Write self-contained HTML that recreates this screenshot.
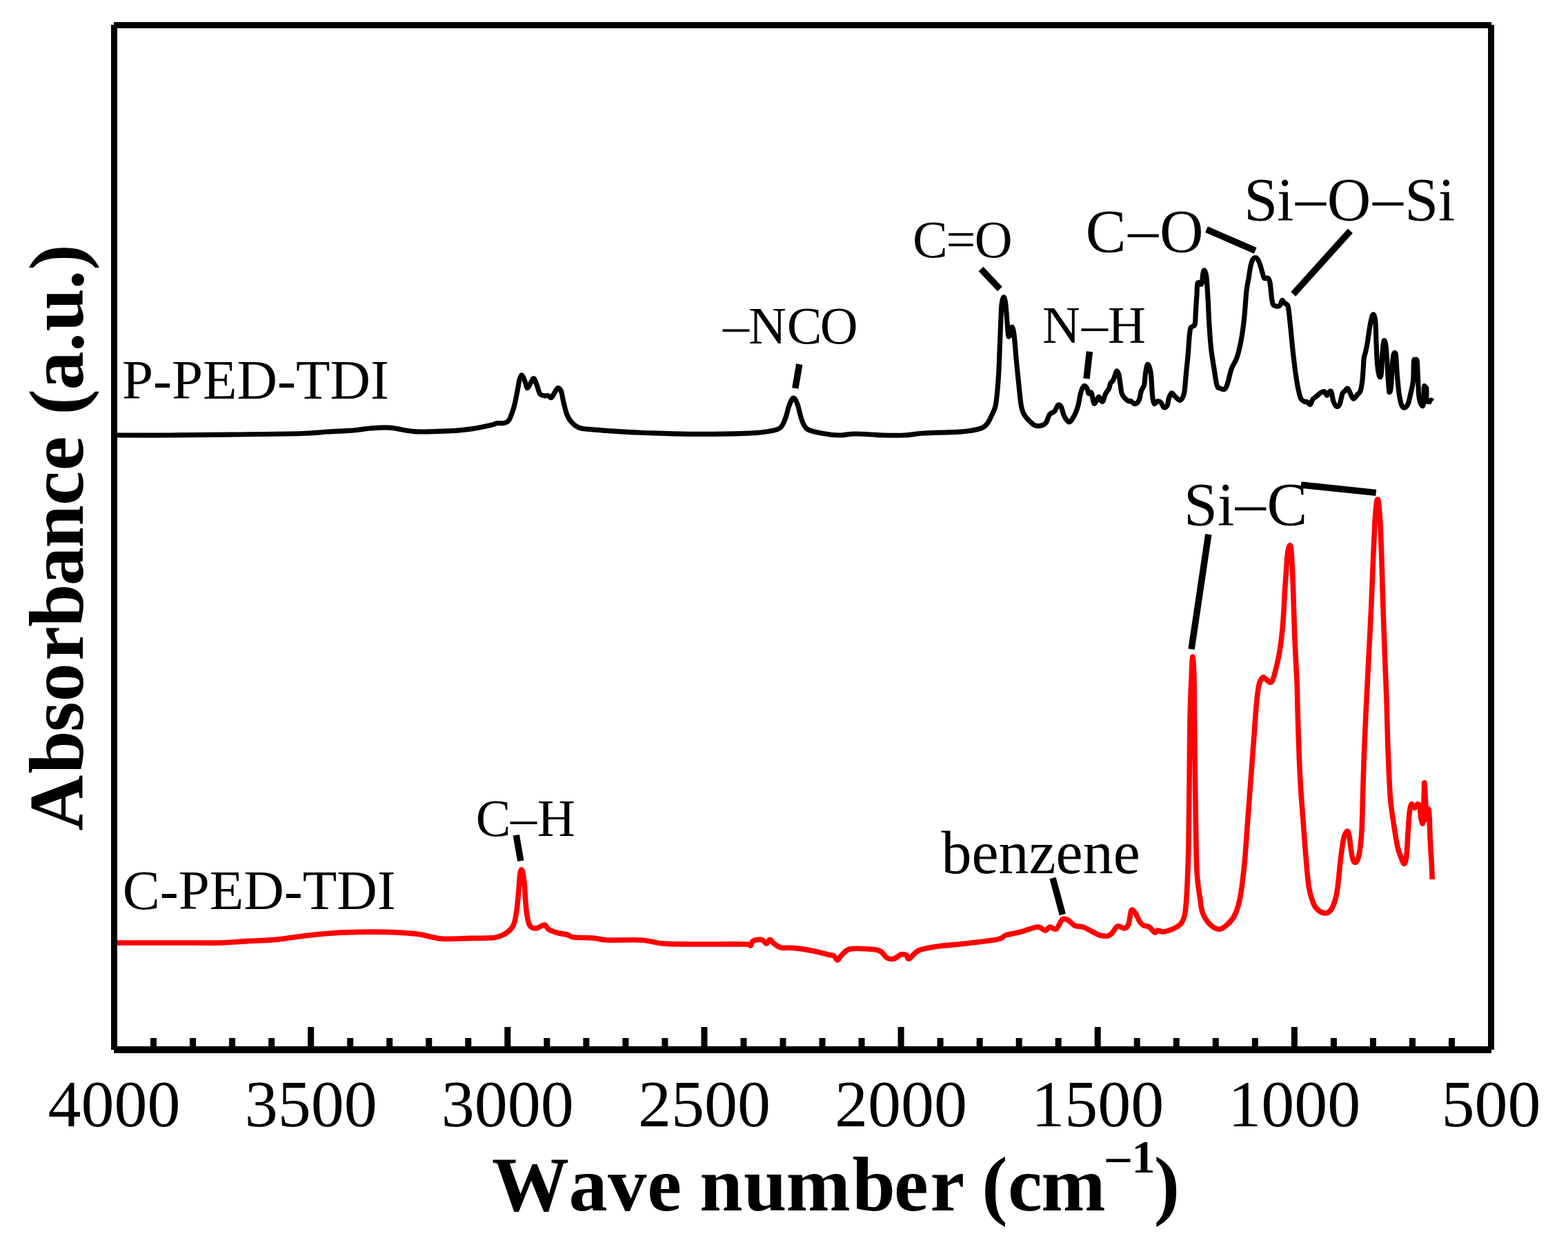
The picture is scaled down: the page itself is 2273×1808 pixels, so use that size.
<!DOCTYPE html><html><head><meta charset="utf-8"><title>FTIR spectra</title><style>html,body{margin:0;padding:0;background:#fff;}svg{display:block;}text{font-family:'Liberation Serif', 'Times New Roman', serif;}</style></head><body>
<svg width="2273" height="1808" viewBox="0 0 2273 1808">
<rect x="0" y="0" width="2273" height="1808" fill="#fff"/>
<path d="M165,631C178.7,631.0 217.8,631.2 247,631C276.2,630.8 308.2,630.4 340,630C371.8,629.6 415.5,629.2 438,628.5C460.5,627.8 462.7,626.8 475,626C487.3,625.2 501.7,624.8 512,624C522.3,623.2 528.2,621.6 537,621C545.8,620.4 554.5,619.4 565,620.2C575.5,621.0 589.5,624.7 600,625.6C610.5,626.5 618.5,625.8 627.8,625.6C637.1,625.5 646.4,625.3 655.7,624.7C665.0,624.1 674.2,623.3 683.5,621.9C692.8,620.5 705.1,617.8 711.3,616.4C717.5,615.0 717.5,614.1 720.6,613.6C723.7,613.1 727.1,614.2 729.9,613.6C732.7,613.0 735.1,612.7 737.3,609.9C739.5,607.1 741.3,601.2 742.9,596.9C744.5,592.6 745.4,589.2 746.6,583.9C747.8,578.6 749.2,570.9 750.3,565.3C751.4,559.7 752.0,554.0 753.1,550.5C754.2,547.0 755.4,543.4 756.8,544C758.2,544.6 760.2,551.1 761.4,554.2C762.6,557.3 763.1,562.0 764.2,562.6C765.3,563.2 766.4,560.2 767.9,557.9C769.4,555.6 771.8,548.6 773.5,548.6C775.2,548.6 776.6,554.2 778.1,557.9C779.6,561.6 780.9,568.3 782.7,570.9C784.6,573.5 787.2,573.2 789.2,573.7C791.2,574.2 793.1,573.2 794.8,573.7C796.5,574.2 797.8,577.3 799.4,576.5C801.0,575.7 802.5,571.4 804.1,569.1C805.7,566.8 807.2,562.9 808.7,562.6C810.2,562.3 812.0,563.7 813.4,567.2C814.8,570.8 815.7,578.3 817.1,583.9C818.5,589.5 819.9,596.0 821.7,600.6C823.6,605.2 825.3,608.5 828.2,611.7C831.1,615.0 834.0,618.2 839.3,620.1C844.5,622.0 850.1,622.0 859.7,622.9C869.3,623.8 884.4,624.8 896.8,625.6C909.2,626.4 917.0,626.9 934,627.5C951.0,628.1 974.6,629.2 998.9,629.4C1023.2,629.5 1061.5,629.0 1080,628.4C1098.5,627.8 1101.7,627.2 1110,626C1118.3,624.8 1125.3,624.0 1130,621C1134.7,618.0 1135.7,613.5 1138,608C1140.3,602.5 1142.0,593.2 1144,588C1146.0,582.8 1148.0,577.3 1150,577C1152.0,576.7 1154.0,580.8 1156,586C1158.0,591.2 1159.7,602.0 1162,608C1164.3,614.0 1165.3,618.7 1170,622C1174.7,625.3 1182.3,626.5 1190,628C1197.7,629.5 1207.7,630.8 1216,631C1224.3,631.2 1229.3,629.0 1240,629C1250.7,629.0 1268.2,630.7 1280,631C1291.8,631.3 1301.0,631.5 1311,631C1321.0,630.5 1328.5,628.7 1340,628C1351.5,627.3 1369.8,627.1 1380,626.6C1390.2,626.1 1394.0,626.1 1401,625.2C1408.0,624.3 1417.1,622.6 1422,621C1426.9,619.4 1427.8,618.4 1430.3,615.4C1432.8,612.4 1435.2,607.2 1437.3,602.8C1439.4,598.4 1441.6,594.6 1443,588.8C1444.4,583.0 1444.9,575.9 1445.7,567.8C1446.5,559.6 1447.2,550.4 1447.8,539.9C1448.4,529.4 1448.7,516.6 1449.2,504.9C1449.7,493.2 1450.1,480.4 1450.6,469.9C1451.1,459.4 1451.3,448.5 1452,442C1452.7,435.5 1453.9,431.3 1454.8,430.8C1455.7,430.3 1456.8,433.8 1457.6,439.2C1458.4,444.6 1459.0,455.1 1459.7,463C1460.4,470.9 1461.0,483.2 1461.8,486.7C1462.6,490.2 1463.7,486.0 1464.6,483.9C1465.5,481.8 1466.5,473.6 1467.4,474.1C1468.3,474.6 1469.3,479.2 1470.2,486.7C1471.1,494.2 1472.0,507.7 1473,518.9C1474.0,530.1 1475.3,542.6 1476.5,553.8C1477.7,565.0 1478.8,578.5 1480,586C1481.2,593.5 1481.8,595.3 1483.5,599C1485.2,602.7 1487.4,605.2 1490.2,608.2C1493.0,611.2 1497.0,615.4 1500.4,616.8C1503.8,618.2 1507.9,617.6 1510.6,616.8C1513.3,616.0 1515.0,614.7 1516.7,612.2C1518.4,609.7 1519.4,604.3 1520.8,602C1522.2,599.7 1523.5,599.5 1524.9,598.5C1526.3,597.5 1527.5,597.9 1529,596C1530.5,594.1 1532.5,588.2 1534,587.2C1535.5,586.2 1536.8,587.3 1538.2,589.8C1539.6,592.3 1540.7,598.6 1542.2,602C1543.7,605.4 1545.8,608.7 1547.3,610.2C1548.8,611.7 1549.7,612.6 1551.4,611.2C1553.1,609.8 1555.7,605.7 1557.6,602C1559.5,598.3 1561.2,594.2 1562.7,588.8C1564.2,583.4 1565.3,574.2 1566.7,569.4C1568.1,564.5 1569.8,560.7 1571.3,559.7C1572.8,558.7 1574.8,561.5 1575.9,563.3C1577.0,565.1 1577.0,569.4 1578,570.4C1579.0,571.4 1580.8,567.3 1582,569.4C1583.2,571.5 1584.2,580.2 1585.1,582.7C1585.9,585.2 1586.1,585.6 1587.1,584.7C1588.1,583.9 1590.2,579.1 1591.2,577.6C1592.2,576.1 1592.5,575.0 1593.3,575.5C1594.1,576.0 1594.9,579.6 1595.8,580.6C1596.7,581.6 1597.8,583.1 1598.9,581.6C1600.0,580.1 1601.0,574.5 1602.4,571.4C1603.9,568.3 1606.4,565.8 1607.6,563.3C1608.8,560.8 1608.6,558.1 1609.6,556.1C1610.6,554.1 1612.5,553.2 1613.7,551C1614.9,548.8 1615.9,545.1 1616.7,542.9C1617.5,540.7 1618.0,537.8 1618.8,537.8C1619.6,537.8 1620.9,539.8 1621.8,542.9C1622.7,546.0 1623.2,551.7 1623.9,556.1C1624.6,560.5 1625.1,566.2 1625.9,569.4C1626.8,572.6 1627.8,573.8 1629,575.5C1630.2,577.2 1631.9,578.6 1633.1,579.6C1634.3,580.6 1635.1,581.3 1636.1,581.6C1637.1,581.9 1637.7,580.9 1639.2,581.6C1640.7,582.3 1643.3,586.0 1645.3,585.7C1647.3,585.4 1649.9,582.8 1651.4,579.6C1652.9,576.4 1653.3,569.9 1654.5,566.3C1655.7,562.7 1657.6,562.5 1658.6,558.2C1659.6,554.0 1659.8,545.7 1660.6,540.8C1661.4,535.9 1662.2,529.8 1663.2,528.6C1664.2,527.4 1665.8,530.8 1666.7,533.7C1667.6,536.6 1668.2,539.6 1668.8,545.9C1669.4,552.2 1669.8,565.4 1670.3,571.4C1670.8,577.4 1671.2,579.2 1671.8,581.6C1672.4,584.0 1672.9,585.7 1673.9,585.7C1674.9,585.7 1676.5,581.9 1678,581.6C1679.5,581.3 1681.5,582.2 1683,583.7C1684.5,585.2 1685.6,590.1 1687.1,590.8C1688.6,591.5 1691.0,589.9 1692.2,587.8C1693.4,585.7 1693.2,581.2 1694.2,578.2C1695.2,575.2 1696.8,570.3 1698.4,569.8C1700.0,569.3 1701.9,573.6 1704,575.4C1706.1,577.1 1708.9,581.2 1711,580.3C1713.1,579.4 1715.2,576.2 1716.6,569.8C1718.0,563.4 1718.5,551.2 1719.4,541.9C1720.3,532.6 1721.4,523.2 1722.2,513.9C1723.0,504.6 1723.6,492.4 1724.3,485.9C1725.0,479.4 1725.1,477.3 1726.4,474.7C1727.7,472.1 1730.8,474.5 1732,470.5C1733.2,466.5 1732.9,457.6 1733.4,450.9C1733.9,444.1 1734.3,436.8 1734.8,430C1735.3,423.2 1735.0,413.4 1736.2,410.4C1737.4,407.4 1740.5,414.1 1741.8,411.8C1743.1,409.5 1743.2,399.7 1743.9,396.4C1744.6,393.1 1745.2,391.5 1746,392.2C1746.8,392.9 1748.0,394.3 1748.8,400.6C1749.6,406.9 1750.2,418.1 1750.9,430C1751.6,441.9 1752.2,459.1 1753,471.9C1753.8,484.7 1754.6,496.4 1755.8,506.9C1757.0,517.4 1758.6,526.3 1760,534.9C1761.4,543.5 1762.7,554.0 1764.1,558.7C1765.5,563.4 1766.4,562.0 1768.3,562.9C1770.2,563.8 1773.4,565.5 1775.3,564.3C1777.2,563.1 1777.9,560.8 1779.5,555.9C1781.1,551.0 1783.0,540.7 1785.1,534.9C1787.2,529.1 1790.2,525.6 1792.1,520.9C1794.0,516.2 1794.9,512.7 1796.3,506.9C1797.7,501.1 1799.2,494.1 1800.5,485.9C1801.8,477.7 1803.0,468.4 1804,457.9C1805.0,447.4 1805.8,432.3 1806.8,423C1807.8,413.7 1809.2,408.3 1810.3,402C1811.3,395.7 1812.0,389.6 1813.1,385.2C1814.1,380.8 1815.2,377.3 1816.6,375.4C1818.0,373.5 1820.0,373.1 1821.5,374C1823.0,374.9 1824.3,377.5 1825.7,381C1827.1,384.5 1828.7,391.3 1829.9,395C1831.1,398.7 1831.3,402.0 1832.7,403.4C1834.1,404.8 1836.9,402.2 1838.3,403.4C1839.7,404.6 1840.3,406.0 1841.1,410.4C1841.9,414.8 1842.5,424.9 1843.2,430C1843.9,435.1 1844.2,438.8 1845.3,441.1C1846.3,443.4 1847.9,443.5 1849.5,443.9C1851.1,444.2 1853.6,444.6 1855.1,443.2C1856.6,441.8 1857.4,436.1 1858.6,435.5C1859.8,434.9 1860.7,438.3 1862.1,439.7C1863.5,441.1 1865.7,439.7 1867,443.9C1868.3,448.1 1869.0,457.9 1869.8,464.9C1870.6,471.9 1871.1,477.7 1871.9,485.9C1872.7,494.1 1873.7,504.6 1874.7,513.9C1875.8,523.2 1877.0,533.7 1878.2,541.9C1879.4,550.1 1880.4,556.8 1881.7,562.9C1883.0,569.0 1884.3,575.0 1885.9,578.2C1887.5,581.5 1889.9,581.6 1891.4,582.4C1892.9,583.1 1893.4,582.0 1894.7,582.7C1896.0,583.4 1897.9,587.1 1899.3,586.5C1900.7,585.9 1901.4,581.0 1903,579C1904.6,577.0 1906.8,575.8 1908.7,574.3C1910.6,572.8 1912.4,570.8 1914.3,569.7C1916.2,568.6 1918.4,567.2 1919.9,567.8C1921.5,568.4 1922.4,573.4 1923.6,573.4C1924.8,573.4 1926.2,568.6 1927.3,567.8C1928.4,567.0 1929.2,566.4 1930.1,568.7C1931.0,571.0 1931.7,578.4 1932.9,581.8C1934.2,585.2 1936.0,588.7 1937.6,589.3C1939.1,589.9 1940.8,588.6 1942.2,585.5C1943.6,582.4 1944.8,573.7 1946,570.6C1947.2,567.5 1948.5,568.1 1949.7,566.9C1950.9,565.6 1952.2,562.6 1953.4,563.1C1954.7,563.6 1955.8,567.2 1957.2,569.7C1958.6,572.2 1960.1,577.6 1961.8,578.1C1963.5,578.6 1965.7,574.4 1967.4,572.5C1969.1,570.6 1970.8,570.3 1972.1,566.9C1973.3,563.5 1974.2,557.5 1974.9,551.9C1975.6,546.3 1975.9,538.7 1976.3,533.3C1976.7,527.9 1976.7,523.2 1977.2,519.3C1977.8,515.4 1978.7,513.9 1979.6,510C1980.5,506.1 1981.5,501.4 1982.4,496C1983.3,490.6 1984.0,483.5 1985.1,477.3C1986.2,471.1 1987.8,462.1 1988.9,458.7C1990.0,455.3 1990.9,455.2 1991.7,456.8C1992.5,458.4 1993.5,461.5 1994,468C1994.5,474.5 1994.6,486.7 1995,496C1995.4,505.3 1995.7,516.2 1996.3,524C1996.9,531.8 1997.8,539.2 1998.7,542.6C1999.6,546.0 2001.1,549.2 2001.9,544.5C2002.8,539.8 2003.2,522.7 2003.8,514.6C2004.4,506.5 2005.1,499.3 2005.7,496C2006.3,492.7 2006.9,493.4 2007.5,495C2008.1,496.6 2008.8,498.9 2009.4,505.3C2010.0,511.7 2010.7,524.0 2011.3,533.3C2011.9,542.6 2012.6,555.4 2013.1,561.3C2013.6,567.2 2013.5,568.7 2014.1,568.7C2014.6,568.7 2015.6,568.8 2016.4,561.3C2017.2,553.8 2018.0,532.1 2018.7,524C2019.4,515.9 2019.8,514.4 2020.6,512.8C2021.4,511.2 2022.6,509.6 2023.4,514.6C2024.2,519.6 2024.5,533.3 2025.3,542.6C2026.1,551.9 2027.0,563.1 2028.1,570.6C2029.2,578.1 2030.4,584.0 2031.8,587.4C2033.2,590.8 2035.0,591.4 2036.5,591.1C2038.0,590.8 2039.7,588.9 2041.1,585.5C2042.5,582.1 2043.7,576.2 2044.9,570.6C2046.2,565.0 2047.8,559.7 2048.6,551.9C2049.4,544.1 2049.0,529.0 2049.5,524C2050.0,519.0 2050.6,522.1 2051.4,522.1C2052.2,522.1 2053.5,519.0 2054.2,524C2054.9,529.0 2055.1,543.4 2055.6,551.9C2056.1,560.4 2056.2,569.4 2057,575.3C2057.8,581.2 2059.6,585.7 2060.7,587.4C2061.8,589.1 2062.9,589.9 2063.5,585.5C2064.1,581.1 2064.1,565.3 2064.4,561.3C2064.7,557.3 2064.9,561.0 2065.4,561.3C2065.9,561.6 2067.2,560.0 2067.7,563.1C2068.2,566.2 2067.5,576.7 2068.2,580C2068.9,583.3 2070.8,582.7 2071.9,582.7C2073.0,582.7 2073.9,580.1 2074.7,580C2075.5,579.9 2076.3,581.5 2076.6,581.8" fill="none" stroke="#000" stroke-width="7.2" stroke-linejoin="round" stroke-linecap="butt"/>
<path d="M165,1367C184.2,1367.0 254.2,1367.0 280,1367C305.8,1367.0 306.7,1367.4 320,1367C333.3,1366.6 346.7,1365.2 360,1364.4C373.3,1363.6 386.7,1363.6 400,1362.4C413.3,1361.2 426.7,1358.6 440,1357C453.3,1355.4 466.7,1353.9 480,1353C493.3,1352.1 506.7,1351.7 520,1351.4C533.3,1351.1 548.2,1351.1 560,1351.4C571.8,1351.7 582.7,1352.4 591,1353C599.3,1353.6 601.8,1353.7 610,1355C618.2,1356.3 628.3,1360.1 640,1361C651.7,1361.9 667.3,1360.7 680,1360.4C692.7,1360.1 707.3,1360.5 716,1359.4C724.7,1358.3 727.3,1356.9 732,1354C736.7,1351.1 741.2,1347.7 744,1342C746.8,1336.3 747.7,1328.7 749,1320C750.3,1311.3 751.2,1299.0 752,1290C752.8,1281.0 753.2,1270.7 754,1266C754.8,1261.3 756.0,1259.7 757,1262C758.0,1264.3 759.0,1270.3 760,1280C761.0,1289.7 761.7,1309.7 763,1320C764.3,1330.3 765.7,1337.7 768,1342C770.3,1346.3 774.3,1345.8 777,1346C779.7,1346.2 781.8,1343.8 784,1343C786.2,1342.2 788.0,1340.2 790,1341C792.0,1341.8 792.7,1346.0 796,1348C799.3,1350.0 805.7,1351.8 810,1353C814.3,1354.2 818.3,1354.0 822,1355C825.7,1356.0 825.7,1358.2 832,1359C838.3,1359.8 852.0,1359.3 860,1360C868.0,1360.7 868.3,1362.5 880,1363C891.7,1363.5 916.7,1362.2 930,1363C943.3,1363.8 948.3,1367.0 960,1368C971.7,1369.0 980.0,1368.8 1000,1369C1020.0,1369.2 1065.3,1368.7 1080,1369C1094.7,1369.3 1086.0,1371.8 1088,1371C1090.0,1370.2 1089.3,1365.4 1092,1364C1094.7,1362.6 1100.8,1361.7 1104,1362.4C1107.2,1363.1 1109.0,1368.0 1111,1368C1113.0,1368.0 1114.2,1362.4 1116,1362.4C1117.8,1362.4 1119.3,1366.1 1122,1368C1124.7,1369.9 1127.3,1372.9 1132,1374C1136.7,1375.1 1142.0,1373.6 1150,1374.4C1158.0,1375.2 1171.7,1377.4 1180,1379C1188.3,1380.6 1195.2,1382.8 1200,1384C1204.8,1385.2 1206.7,1384.7 1209,1386C1211.3,1387.3 1212.2,1392.2 1214,1392C1215.8,1391.8 1217.0,1387.7 1220,1385C1223.0,1382.3 1225.3,1377.5 1232,1376C1238.7,1374.5 1252.7,1375.5 1260,1376C1267.3,1376.5 1271.7,1376.8 1276,1379C1280.3,1381.2 1282.7,1387.2 1286,1389C1289.3,1390.8 1292.7,1390.8 1296,1390C1299.3,1389.2 1303.0,1384.8 1306,1384C1309.0,1383.2 1312.0,1384.0 1314,1385C1316.0,1386.0 1315.0,1391.2 1318,1390C1321.0,1388.8 1325.0,1381.0 1332,1378C1339.0,1375.0 1348.7,1373.7 1360,1372C1371.3,1370.3 1386.7,1369.5 1400,1368C1413.3,1366.5 1431.3,1364.3 1440,1363C1448.7,1361.7 1449.0,1361.2 1452,1360C1455.0,1358.8 1453.3,1357.5 1458,1356C1462.7,1354.5 1472.3,1353.0 1480,1351C1487.7,1349.0 1498.2,1344.3 1504,1344C1509.8,1343.7 1512.0,1349.0 1515,1349C1518.0,1349.0 1519.3,1344.3 1522,1344C1524.7,1343.7 1528.0,1348.8 1531,1347C1534.0,1345.2 1537.2,1335.2 1540,1333C1542.8,1330.8 1545.0,1332.5 1548,1334C1551.0,1335.5 1554.3,1340.3 1558,1342C1561.7,1343.7 1565.7,1342.5 1570,1344C1574.3,1345.5 1580.0,1349.0 1584,1351C1588.0,1353.0 1590.3,1355.0 1594,1356C1597.7,1357.0 1603.0,1357.5 1606,1357C1609.0,1356.5 1609.7,1355.3 1612,1353C1614.3,1350.7 1617.0,1344.2 1620,1343C1623.0,1341.8 1627.3,1346.5 1630,1346C1632.7,1345.5 1634.3,1344.3 1636,1340C1637.7,1335.7 1638.3,1322.7 1640,1320C1641.7,1317.3 1644.0,1321.3 1646,1324C1648.0,1326.7 1650.0,1333.0 1652,1336C1654.0,1339.0 1655.7,1340.7 1658,1342C1660.3,1343.3 1663.3,1342.3 1666,1344C1668.7,1345.7 1672.0,1351.2 1674,1352C1676.0,1352.8 1676.0,1349.2 1678,1349C1680.0,1348.8 1682.3,1351.3 1686,1351C1689.7,1350.7 1695.7,1349.0 1700,1347C1704.3,1345.0 1709.0,1343.0 1712,1339C1715.0,1335.0 1716.5,1332.3 1718,1323C1719.5,1313.7 1720.2,1299.7 1721,1283C1721.8,1266.3 1722.5,1246.3 1723,1223C1723.5,1199.7 1723.7,1173.0 1724,1143C1724.3,1113.0 1724.5,1069.3 1725,1043C1725.5,1016.7 1726.3,1000.2 1727,985C1727.7,969.8 1728.2,952.0 1728.9,952C1729.6,952.0 1730.6,969.8 1731,985C1731.4,1000.2 1731.2,1013.3 1731.5,1043C1731.8,1072.7 1732.4,1126.3 1733,1163C1733.6,1199.7 1733.8,1239.3 1735,1263C1736.2,1286.7 1738.6,1294.9 1740,1305C1741.4,1315.1 1741.2,1317.9 1743.5,1323.8C1745.8,1329.7 1749.9,1336.3 1754,1340.2C1758.1,1344.1 1763.3,1347.6 1768,1347.2C1772.7,1346.8 1778.1,1341.7 1782,1337.8C1785.9,1333.9 1788.6,1330.4 1791.3,1323.8C1794.0,1317.2 1796.2,1310.2 1798.3,1298.2C1800.4,1286.2 1802.5,1267.0 1804.1,1251.5C1805.6,1236.0 1806.4,1220.4 1807.6,1204.9C1808.8,1189.4 1809.9,1173.8 1811.1,1158.3C1812.3,1142.8 1813.4,1127.1 1814.6,1111.6C1815.8,1096.0 1816.9,1080.5 1818.1,1065C1819.3,1049.5 1820.4,1030.3 1821.6,1018.3C1822.8,1006.2 1823.7,998.7 1825.1,992.7C1826.5,986.7 1828.7,984.0 1830.2,982.5C1831.8,981.0 1832.5,982.8 1834.4,984C1836.3,985.2 1839.5,989.5 1841.4,989.5C1843.3,989.5 1844.0,988.4 1845.6,984C1847.2,979.6 1849.6,970.0 1851.2,963C1852.8,956.0 1854.1,950.2 1855.4,942C1856.7,933.8 1858.0,923.3 1858.9,914C1859.8,904.7 1860.4,895.3 1861,886C1861.6,876.7 1861.8,867.3 1862.4,858C1863.0,848.7 1863.7,839.3 1864.4,830C1865.1,820.7 1865.6,808.6 1866.5,802C1867.4,795.4 1869.1,790.5 1870,790.5C1870.9,790.5 1871.4,793.1 1872.1,802C1872.8,810.9 1873.6,830.0 1874.2,844C1874.8,858.0 1875.1,872.0 1875.6,886C1876.1,900.0 1876.4,914.0 1877,928C1877.6,942.0 1878.5,958.0 1879.1,970C1879.7,982.0 1880.2,990.0 1880.5,1000C1880.8,1010.0 1880.6,1013.3 1881.1,1030C1881.6,1046.7 1882.6,1080.6 1883.4,1100C1884.2,1119.4 1884.8,1131.1 1885.8,1146.6C1886.8,1162.1 1888.1,1177.7 1889.3,1193.2C1890.5,1208.8 1891.4,1224.4 1892.8,1239.9C1894.2,1255.5 1895.5,1274.8 1897.4,1286.5C1899.3,1298.2 1901.7,1304.5 1904,1310C1906.3,1315.5 1908.2,1317.4 1911,1319.7C1913.8,1322.0 1918.0,1323.8 1920.8,1324C1923.6,1324.2 1925.7,1323.1 1927.8,1321C1929.9,1318.9 1931.8,1315.5 1933.4,1311.3C1935.0,1307.1 1936.4,1302.0 1937.6,1296C1938.8,1290.0 1939.5,1283.2 1940.4,1275C1941.3,1266.8 1942.3,1255.2 1943.2,1247C1944.1,1238.8 1945.1,1231.8 1946,1226C1946.9,1220.2 1947.6,1215.5 1948.8,1212C1950.0,1208.5 1951.8,1205.0 1953,1205C1954.2,1205.0 1954.9,1207.3 1955.8,1212C1956.7,1216.7 1957.7,1227.2 1958.6,1233C1959.5,1238.8 1960.4,1244.1 1961.4,1247C1962.5,1249.9 1963.7,1250.7 1964.9,1250.5C1966.1,1250.3 1967.4,1248.5 1968.4,1245.6C1969.5,1242.7 1970.3,1239.8 1971.2,1233C1972.1,1226.2 1973.3,1217.8 1974,1205C1974.7,1192.2 1975.0,1173.5 1975.5,1156C1976.0,1138.5 1976.6,1117.7 1977.2,1100C1977.8,1082.3 1978.7,1064.2 1979.3,1050C1979.9,1035.8 1980.1,1032.5 1981,1015C1981.9,997.5 1983.3,968.3 1984.5,945C1985.7,921.7 1987.0,898.3 1988,875C1989.0,851.7 1989.9,825.4 1990.8,805C1991.7,784.6 1992.5,765.2 1993.25,752.5C1994.0,739.8 1994.9,733.8 1995.5,729C1996.1,724.2 1996.5,724.0 1997,724C1997.5,724.0 1997.9,724.2 1998.5,729C1999.1,733.8 1999.8,739.8 2000.5,752.5C2001.2,765.2 2002.0,784.6 2002.7,805C2003.4,825.4 2004.0,851.7 2004.8,875C2005.6,898.3 2006.4,921.7 2007.25,945C2008.1,968.3 2009.2,991.7 2010,1015C2010.8,1038.3 2011.1,1061.7 2012,1085C2012.9,1108.3 2014.0,1137.2 2015.3,1155C2016.6,1172.8 2018.2,1179.8 2020,1192C2021.8,1204.2 2024.2,1219.7 2026,1228C2027.8,1236.3 2028.9,1237.9 2030.5,1242C2032.1,1246.1 2034.2,1252.8 2035.6,1252.5C2037.0,1252.2 2038.1,1247.9 2039,1240C2039.9,1232.1 2040.5,1215.5 2041.2,1205C2041.9,1194.5 2042.5,1183.5 2043.3,1177C2044.1,1170.5 2044.8,1166.7 2046.1,1165.8C2047.4,1164.9 2049.5,1171.4 2051,1171.4C2052.5,1171.4 2054.0,1166.0 2055.2,1165.8C2056.4,1165.6 2057.2,1166.5 2058,1170C2058.8,1173.5 2059.2,1183.1 2060,1186.8C2060.8,1190.5 2062.1,1197.5 2062.8,1192.4C2063.5,1187.3 2063.8,1165.6 2064.2,1156C2064.6,1146.4 2064.5,1132.7 2065,1135C2065.5,1137.3 2066.4,1161.2 2067,1170C2067.6,1178.8 2067.8,1187.5 2068.4,1188C2069.0,1188.5 2069.9,1173.5 2070.5,1172.8C2071.1,1172.1 2071.5,1176.3 2072,1184C2072.5,1191.7 2072.7,1207.3 2073.3,1219C2073.9,1230.7 2074.9,1244.7 2075.4,1254C2075.9,1263.3 2076.0,1271.5 2076.1,1275" fill="none" stroke="#f00" stroke-width="7.6" stroke-linejoin="round" stroke-linecap="butt"/>
<line x1="748.3" y1="1210.8" x2="754.8" y2="1248.3" stroke="#000" stroke-width="9.5"/>
<line x1="1158.8" y1="528.1" x2="1152.8" y2="563" stroke="#000" stroke-width="9.5"/>
<line x1="1422" y1="390" x2="1449.4" y2="419" stroke="#000" stroke-width="9.5"/>
<line x1="1579.5" y1="509.7" x2="1575" y2="549" stroke="#000" stroke-width="9.5"/>
<line x1="1749" y1="332.7" x2="1819.7" y2="363.4" stroke="#000" stroke-width="9.5"/>
<line x1="1957.4" y1="334.8" x2="1874.7" y2="426.5" stroke="#000" stroke-width="9.5"/>
<line x1="1886" y1="703" x2="1994.7" y2="714.4" stroke="#000" stroke-width="9.5"/>
<line x1="1751.8" y1="774.7" x2="1727.1" y2="941.2" stroke="#000" stroke-width="9.5"/>
<line x1="1526" y1="1273" x2="1540.4" y2="1326" stroke="#000" stroke-width="9.5"/>
<g fill="#000">
<rect x="165" y="32" width="1997" height="9"/>
<rect x="165" y="1517" width="1997" height="10"/>
<rect x="161" y="36" width="9" height="1486"/>
<rect x="2157" y="36" width="9" height="1486"/>
<rect x="218.03" y="1505" width="9" height="13"/>
<rect x="275.06" y="1505" width="9" height="13"/>
<rect x="332.09" y="1505" width="9" height="13"/>
<rect x="389.12" y="1505" width="9" height="13"/>
<rect x="446.14" y="1489" width="9" height="29"/>
<rect x="503.17" y="1505" width="9" height="13"/>
<rect x="560.20" y="1505" width="9" height="13"/>
<rect x="617.23" y="1505" width="9" height="13"/>
<rect x="674.26" y="1505" width="9" height="13"/>
<rect x="731.29" y="1489" width="9" height="29"/>
<rect x="788.32" y="1505" width="9" height="13"/>
<rect x="845.35" y="1505" width="9" height="13"/>
<rect x="902.38" y="1505" width="9" height="13"/>
<rect x="959.41" y="1505" width="9" height="13"/>
<rect x="1016.43" y="1489" width="9" height="29"/>
<rect x="1073.46" y="1505" width="9" height="13"/>
<rect x="1130.49" y="1505" width="9" height="13"/>
<rect x="1187.52" y="1505" width="9" height="13"/>
<rect x="1244.55" y="1505" width="9" height="13"/>
<rect x="1301.58" y="1489" width="9" height="29"/>
<rect x="1358.61" y="1505" width="9" height="13"/>
<rect x="1415.64" y="1505" width="9" height="13"/>
<rect x="1472.67" y="1505" width="9" height="13"/>
<rect x="1529.70" y="1505" width="9" height="13"/>
<rect x="1586.72" y="1489" width="9" height="29"/>
<rect x="1643.75" y="1505" width="9" height="13"/>
<rect x="1700.78" y="1505" width="9" height="13"/>
<rect x="1757.81" y="1505" width="9" height="13"/>
<rect x="1814.84" y="1505" width="9" height="13"/>
<rect x="1871.87" y="1489" width="9" height="29"/>
<rect x="1928.90" y="1505" width="9" height="13"/>
<rect x="1985.93" y="1505" width="9" height="13"/>
<rect x="2042.96" y="1505" width="9" height="13"/>
<rect x="2099.99" y="1505" width="9" height="13"/>
</g>
<text x="165.50" y="1633" font-size="96" text-anchor="middle">4000</text>
<text x="450.64" y="1633" font-size="96" text-anchor="middle">3500</text>
<text x="735.79" y="1633" font-size="96" text-anchor="middle">3000</text>
<text x="1020.93" y="1633" font-size="96" text-anchor="middle">2500</text>
<text x="1306.08" y="1633" font-size="96" text-anchor="middle">2000</text>
<text x="1591.22" y="1633" font-size="96" text-anchor="middle">1500</text>
<text x="1876.37" y="1633" font-size="96" text-anchor="middle">1000</text>
<text x="2161.51" y="1633" font-size="96" text-anchor="middle">500</text>
<text x="177.0" y="578" font-size="81">P-PED-TDI</text>
<text x="177.8" y="1317.6" font-size="81">C-PED-TDI</text>
<text x="1364.5" y="1266.1" font-size="88">benzene</text>
<text x="1048.0 1084.9 1140.8 1188.8" y="496.7 497.7 497.7 497.7" font-size="76">–NCO</text>
<text x="1323.0 1371.5 1412.8" y="372.5 372.5 372.5" font-size="76">C=O</text>
<text x="1510.9 1568.0 1605.9" y="496.8 495.8 496.8" font-size="76">N–H</text>
<text x="1573.8 1635.2 1681.0" y="364.5 363 364.5" font-size="88">C–O</text>
<text x="1803.2 1851.0 1878.1 1923.8 1990.0 2036.2 2084.8" y="318.6 318.6 316.8 318.6 316.8 318.6 318.6" font-size="88">Si–O–Si</text>
<text x="1715.9 1764.9 1790.8 1836.5" y="760.9 760.9 759.1 760.9" font-size="88">Si–C</text>
<text x="689.8 740.0 779.0" y="1211.7 1210.7 1211.7" font-size="76">C–H</text>
<text x="713.0 824.4 881.2 938.3" y="1755" font-size="112" font-weight="bold">Wave</text>
<text x="1014.3 1078.1 1139.4 1235.4 1296.0 1348.4" y="1755" font-size="112" font-weight="bold">number</text>
<text x="1423.3 1461.0 1509.3" y="1755" font-size="112" font-weight="bold">(cm</text>
<text x="1604.0" y="1697.5" font-size="68" font-weight="bold">–</text>
<text x="1640.5" y="1700" font-size="68" font-weight="bold">1</text>
<text x="1672.8" y="1755" font-size="112" font-weight="bold">)</text>
<text transform="translate(119.7,0) rotate(-90)" x="-1204.5 -1121.7 -1060.9 -1017.6 -957.7 -909.0 -849.1 -794.6 -732.7 -682.2 -620.0 -601.5 -565.6 -510.0 -480.5 -419.5 -391.4" y="0" font-size="112" font-weight="bold">Absorbance (a.u.)</text>
</svg></body></html>
